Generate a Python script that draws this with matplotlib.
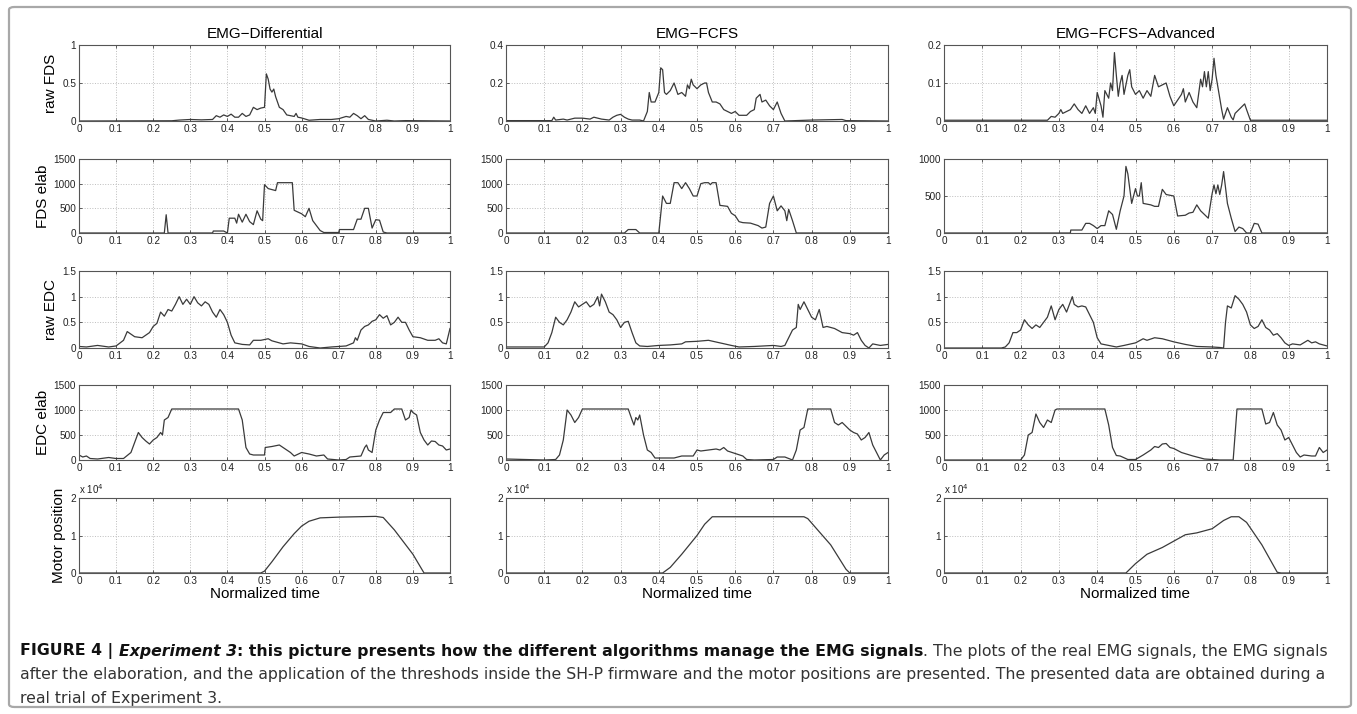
import numpy as np
import matplotlib.pyplot as plt
from matplotlib.patches import FancyBboxPatch

# ---- data (x = normalized time) ----
columns = ["EMG\u2212Differential", "EMG\u2212FCFS", "EMG\u2212FCFS\u2212Advanced"]
row_labels = ["raw FDS", "FDS elab", "raw EDC", "EDC elab", "Motor position"]

# EMG-Differential
t_fds_raw_diff = [0, 0.25, 0.27, 0.30, 0.33, 0.36, 0.37, 0.38, 0.39, 0.40, 0.41, 0.42, 0.43, 0.44, 0.45,
                  0.46, 0.47, 0.48, 0.49, 0.50, 0.505, 0.51, 0.515, 0.52, 0.525, 0.53, 0.54, 0.55, 0.56,
                  0.57, 0.58, 0.585, 0.59, 0.60, 0.62, 0.65, 0.68, 0.70, 0.72, 0.73, 0.74, 0.75, 0.76,
                  0.77, 0.78, 0.80, 0.83, 0.85, 0.88, 1.0]
fds_raw_diff = [0, 0.003, 0.012, 0.02, 0.015, 0.02, 0.07, 0.05, 0.08, 0.06, 0.09, 0.05, 0.05, 0.1, 0.06,
                0.08, 0.18, 0.15, 0.17, 0.18, 0.62, 0.55, 0.42, 0.38, 0.42, 0.32, 0.18, 0.15, 0.08,
                0.07, 0.06, 0.1, 0.05, 0.04, 0.01, 0.02, 0.02, 0.03, 0.06, 0.05, 0.1, 0.07, 0.03,
                0.07, 0.02, 0.0, 0.01, 0.0, 0.005, 0.0]

t_fds_elab_diff = [0, 0.23, 0.235, 0.24, 0.36, 0.362, 0.39, 0.40, 0.405, 0.42, 0.425, 0.43, 0.44, 0.45,
                   0.46, 0.47, 0.48, 0.49, 0.495, 0.50, 0.51, 0.52, 0.53, 0.535, 0.575, 0.58, 0.60,
                   0.61, 0.62, 0.63, 0.65, 0.66, 0.70, 0.702, 0.74, 0.75, 0.76, 0.77, 0.78, 0.79,
                   0.80, 0.81, 0.82, 0.83, 1.0]
fds_elab_diff = [0, 0, 370, 0, 0, 40, 40, 0, 300, 300, 200, 380, 220, 380,
                 230, 170, 450, 280, 250, 980, 900, 880, 860, 1020, 1020, 460, 390,
                 330, 500, 250, 50, 10, 10, 70, 70, 280, 280, 500, 500, 100,
                 270, 260, 20, 0, 0]

t_edc_raw_diff = [0, 0.02, 0.05, 0.08, 0.10, 0.12, 0.13, 0.15, 0.17, 0.19, 0.20, 0.21, 0.22, 0.23, 0.24,
                  0.25, 0.26, 0.27, 0.28, 0.29, 0.30, 0.31, 0.32, 0.33, 0.34, 0.35, 0.36, 0.37, 0.38,
                  0.39, 0.40, 0.41, 0.42, 0.44, 0.46, 0.47, 0.49, 0.51, 0.52, 0.55, 0.57, 0.60, 0.62,
                  0.65, 0.68, 0.72, 0.74, 0.745, 0.75, 0.76, 0.77, 0.78, 0.79, 0.80, 0.81, 0.82, 0.83,
                  0.84, 0.85, 0.86, 0.87, 0.88, 0.89, 0.90, 0.92, 0.94, 0.96, 0.97, 0.98, 0.99, 1.0]
edc_raw_diff = [0.03, 0.02, 0.05, 0.02, 0.04, 0.15, 0.32, 0.22, 0.2, 0.3, 0.42, 0.48, 0.7, 0.62, 0.75,
                0.72, 0.85, 1.0, 0.85, 0.95, 0.85, 1.0, 0.88, 0.82, 0.9, 0.85, 0.7, 0.6, 0.75,
                0.65, 0.5, 0.25, 0.1, 0.07, 0.06, 0.15, 0.15, 0.18, 0.14, 0.08, 0.1, 0.08, 0.03,
                0.0, 0.02, 0.04, 0.1, 0.2, 0.15, 0.35, 0.42, 0.45, 0.52, 0.55, 0.65, 0.58, 0.63,
                0.45, 0.5, 0.6, 0.5, 0.5, 0.35, 0.22, 0.2, 0.15, 0.15, 0.18, 0.1, 0.08, 0.38]

t_edc_elab_diff = [0, 0.01, 0.02, 0.03, 0.05, 0.08, 0.10, 0.12, 0.14, 0.15, 0.16, 0.17, 0.18, 0.19,
                   0.20, 0.21, 0.22, 0.225, 0.23, 0.24, 0.25, 0.43, 0.44, 0.45, 0.46, 0.47, 0.50,
                   0.502, 0.52, 0.54, 0.55, 0.57, 0.58, 0.60, 0.62, 0.64, 0.66, 0.67, 0.70, 0.72,
                   0.73, 0.76, 0.77, 0.775, 0.78, 0.79, 0.80, 0.81, 0.82, 0.84, 0.85, 0.87, 0.88,
                   0.89, 0.895, 0.90, 0.91, 0.92, 0.93, 0.94, 0.95, 0.96, 0.97, 0.98, 0.99, 1.0]
edc_elab_diff = [100, 60, 80, 30, 20, 50, 30, 30, 150, 350, 550, 450, 380, 320,
                 400, 450, 550, 500, 800, 850, 1020, 1020, 800, 250, 120, 100, 100,
                 250, 270, 300, 250, 150, 80, 150, 120, 80, 100, 20, 0, 10,
                 60, 80, 250, 300, 200, 150, 600, 800, 950, 950, 1020, 1020, 800,
                 850, 1000, 950, 900, 550, 400, 300, 380, 370, 300, 280, 200, 220]

t_motor_diff = [0, 0.49, 0.50, 0.52, 0.55, 0.58, 0.60, 0.62, 0.65, 0.70, 0.80, 0.82, 0.85, 0.90, 0.93, 1.0]
motor_diff = [0, 0, 500, 3000, 7000, 10500, 12500, 13800, 14700, 14900, 15100, 14800, 11500, 5000, 0, 0]

# EMG-FCFS
t_fds_raw_fcfs = [0, 0.12, 0.125, 0.13, 0.15, 0.16, 0.18, 0.20, 0.22, 0.23, 0.25, 0.27, 0.28, 0.29, 0.30,
                  0.31, 0.32, 0.33, 0.35, 0.36, 0.37, 0.375, 0.38, 0.39, 0.40, 0.405, 0.41, 0.415, 0.42,
                  0.43, 0.44, 0.45, 0.46, 0.47, 0.475, 0.48, 0.485, 0.49, 0.50, 0.51, 0.52, 0.525,
                  0.53, 0.54, 0.55, 0.56, 0.57, 0.58, 0.59, 0.60, 0.61, 0.62, 0.63, 0.64, 0.65,
                  0.655, 0.665, 0.67, 0.68, 0.69, 0.70, 0.71, 0.72, 0.73, 0.80, 0.88, 0.89, 1.0]
fds_raw_fcfs = [0.002, 0.002, 0.02, 0.005, 0.01, 0.005, 0.015, 0.015, 0.01, 0.02, 0.01, 0.005, 0.02, 0.03, 0.035,
                0.02, 0.01, 0.005, 0.005, 0.0, 0.05, 0.15, 0.1, 0.1, 0.15, 0.28, 0.27, 0.15, 0.14,
                0.16, 0.2, 0.14, 0.15, 0.13, 0.19, 0.17, 0.22, 0.19, 0.17, 0.19, 0.2, 0.2,
                0.15, 0.1, 0.1, 0.09, 0.06, 0.05, 0.04, 0.05, 0.03, 0.03, 0.03, 0.05, 0.06,
                0.12, 0.14, 0.1, 0.11, 0.08, 0.06, 0.1, 0.04, 0.0, 0.005, 0.008, 0.002, 0.0]

t_fds_elab_fcfs = [0, 0.31, 0.32, 0.34, 0.35, 0.40, 0.41, 0.42, 0.43, 0.44, 0.45, 0.46, 0.47, 0.48,
                   0.49, 0.50, 0.51, 0.52, 0.53, 0.535, 0.54, 0.55, 0.56, 0.57, 0.58, 0.59, 0.60,
                   0.61, 0.62, 0.64, 0.66, 0.67, 0.68, 0.69, 0.70, 0.71, 0.72, 0.73, 0.735, 0.74,
                   0.75, 0.76, 1.0]
fds_elab_fcfs = [0, 0, 70, 70, 0, 0, 750, 600, 600, 1020, 1020, 900, 1020, 900,
                 750, 750, 1000, 1020, 1020, 980, 1020, 1020, 560, 550, 540, 400, 350,
                 230, 210, 200, 150, 100, 120, 600, 750, 450, 550, 450, 250, 480,
                 250, 0, 0]

t_edc_raw_fcfs = [0, 0.05, 0.10, 0.11, 0.12, 0.13, 0.14, 0.15, 0.16, 0.17, 0.18, 0.19, 0.20, 0.21,
                  0.22, 0.23, 0.24, 0.245, 0.25, 0.26, 0.27, 0.28, 0.29, 0.30, 0.31, 0.32, 0.33,
                  0.34, 0.35, 0.37, 0.40, 0.43, 0.46, 0.47, 0.50, 0.53, 0.56, 0.59, 0.61, 0.65,
                  0.70, 0.72, 0.73, 0.75, 0.76, 0.765, 0.77, 0.78, 0.79, 0.80, 0.81, 0.82, 0.83,
                  0.84, 0.86, 0.88, 0.90, 0.91, 0.92, 0.93, 0.94, 0.95, 0.96, 0.98, 1.0]
edc_raw_fcfs = [0.02, 0.02, 0.02, 0.1, 0.3, 0.6, 0.5, 0.45, 0.55, 0.7, 0.9, 0.8, 0.85, 0.9,
                0.8, 0.85, 1.0, 0.82, 1.05, 0.9, 0.7, 0.65, 0.55, 0.4, 0.5, 0.52, 0.3,
                0.1, 0.04, 0.03, 0.05, 0.06, 0.08, 0.12, 0.13, 0.15, 0.1, 0.05, 0.02, 0.03,
                0.05, 0.03, 0.05, 0.35, 0.4, 0.85, 0.75, 0.9, 0.75, 0.6, 0.55, 0.75, 0.4,
                0.42, 0.38, 0.3, 0.28, 0.25, 0.3, 0.15, 0.05, 0.0, 0.08, 0.05, 0.07]

t_edc_elab_fcfs = [0, 0.05, 0.10, 0.13, 0.14, 0.15, 0.16, 0.17, 0.18, 0.19, 0.20, 0.32, 0.33, 0.335,
                   0.34, 0.345, 0.35, 0.36, 0.37, 0.38, 0.39, 0.44, 0.46, 0.49, 0.50, 0.51, 0.53,
                   0.55, 0.56, 0.57, 0.58, 0.60, 0.62, 0.63, 0.65, 0.70, 0.71, 0.73, 0.75, 0.76,
                   0.77, 0.78, 0.79, 0.85, 0.86, 0.87, 0.88, 0.90, 0.91, 0.92, 0.93, 0.94, 0.95,
                   0.96, 0.97, 0.98, 0.99, 1.0]
edc_elab_fcfs = [20, 10, 0, 10, 100, 400, 1000, 900, 750, 850, 1020, 1020, 800, 700,
                 850, 800, 900, 500, 200, 150, 40, 40, 80, 80, 200, 180, 200,
                 220, 200, 250, 180, 130, 80, 10, 0, 10, 60, 60, 0, 200,
                 600, 650, 1020, 1020, 750, 700, 750, 600, 550, 520, 400, 450, 550,
                 300, 150, 0, 100, 150]

t_motor_fcfs = [0, 0.41, 0.43, 0.46, 0.50, 0.52, 0.54, 0.78, 0.79, 0.85, 0.89, 0.90, 1.0]
motor_fcfs = [0, 0, 1500, 5000, 10000, 13000, 15000, 15000, 14500, 7500, 1000, 0, 0]

# EMG-FCFS-Advanced
t_fds_raw_adv = [0, 0.27, 0.28, 0.29, 0.30, 0.305, 0.31, 0.32, 0.33, 0.34, 0.35, 0.36, 0.37, 0.38, 0.39,
                 0.395, 0.40, 0.41, 0.415, 0.42, 0.43, 0.435, 0.44, 0.445, 0.45, 0.455, 0.46, 0.465,
                 0.47, 0.48, 0.485, 0.49, 0.50, 0.51, 0.52, 0.53, 0.54, 0.55, 0.56, 0.57, 0.58,
                 0.59, 0.60, 0.61, 0.62, 0.625, 0.63, 0.64, 0.65, 0.66, 0.67, 0.675, 0.68, 0.685,
                 0.69, 0.695, 0.70, 0.705, 0.71, 0.72, 0.725, 0.73, 0.74, 0.75, 0.755, 0.76, 0.77,
                 0.78, 0.785, 0.79, 0.80, 1.0]
fds_raw_adv = [0.002, 0.002, 0.012, 0.01, 0.02, 0.03, 0.02, 0.025, 0.03, 0.045, 0.03, 0.02, 0.04, 0.02, 0.035,
               0.02, 0.075, 0.04, 0.01, 0.08, 0.06, 0.1, 0.08, 0.18, 0.12, 0.065, 0.1, 0.12,
               0.07, 0.12, 0.135, 0.09, 0.07, 0.08, 0.06, 0.08, 0.065, 0.12, 0.09, 0.095, 0.1,
               0.065, 0.04, 0.055, 0.07, 0.085, 0.05, 0.075, 0.05, 0.035, 0.11, 0.09, 0.13, 0.09,
               0.13, 0.08, 0.11, 0.165, 0.12, 0.06, 0.03, 0.005, 0.035, 0.01, 0.003, 0.02, 0.03,
               0.04, 0.045, 0.03, 0.002, 0.002]

t_fds_elab_adv = [0, 0.33, 0.331, 0.36, 0.37, 0.38, 0.39, 0.40, 0.41, 0.42, 0.43, 0.44, 0.45, 0.46,
                  0.47, 0.475, 0.48, 0.49, 0.50, 0.505, 0.51, 0.515, 0.52, 0.54, 0.55, 0.56, 0.57,
                  0.58, 0.60, 0.61, 0.63, 0.64, 0.65, 0.66, 0.67, 0.68, 0.69, 0.70, 0.705, 0.71,
                  0.715, 0.72, 0.725, 0.73, 0.74, 0.75, 0.76, 0.77, 0.78, 0.79, 0.80, 0.81, 0.82,
                  0.83, 1.0]
fds_elab_adv = [0, 0, 40, 40, 130, 130, 100, 60, 100, 100, 300, 250, 50, 300,
                500, 900, 800, 400, 600, 500, 500, 680, 400, 380, 360, 360, 590,
                520, 500, 230, 240, 270, 280, 380, 300, 250, 200, 530, 650, 530,
                650, 520, 650, 830, 400, 200, 20, 80, 60, 0, 0, 130, 120,
                0, 0]

t_edc_raw_adv = [0, 0.15, 0.16, 0.17, 0.18, 0.19, 0.20, 0.21, 0.22, 0.23, 0.24, 0.25, 0.26, 0.27, 0.28,
                 0.29, 0.30, 0.31, 0.32, 0.33, 0.335, 0.34, 0.35, 0.36, 0.37, 0.38, 0.39, 0.40, 0.41,
                 0.43, 0.45, 0.47, 0.50, 0.52, 0.53, 0.55, 0.57, 0.60, 0.63, 0.66, 0.70, 0.72, 0.73,
                 0.735, 0.74, 0.75, 0.76, 0.77, 0.78, 0.79, 0.80, 0.81, 0.82, 0.83, 0.84, 0.85,
                 0.86, 0.87, 0.88, 0.89, 0.90, 0.91, 0.93, 0.95, 0.96, 0.97, 0.98, 1.0]
edc_raw_adv = [0.0, 0.0, 0.02, 0.1, 0.3, 0.3, 0.35, 0.55, 0.45, 0.38, 0.45, 0.4, 0.5, 0.6, 0.82,
               0.55, 0.75, 0.85, 0.7, 0.9, 1.0, 0.85, 0.8, 0.82, 0.8, 0.65, 0.5, 0.2, 0.08,
               0.05, 0.02, 0.05, 0.1, 0.18, 0.15, 0.2, 0.18, 0.12, 0.07, 0.03, 0.02, 0.01, 0.0,
               0.5, 0.82, 0.78, 1.02, 0.95, 0.85, 0.7, 0.45, 0.38, 0.42, 0.55, 0.4, 0.35,
               0.25, 0.28, 0.2, 0.1, 0.05, 0.08, 0.06, 0.15, 0.1, 0.12, 0.08, 0.04]

t_edc_elab_adv = [0, 0.20, 0.21, 0.22, 0.23, 0.24, 0.25, 0.26, 0.27, 0.28, 0.29, 0.295, 0.42, 0.43,
                  0.44, 0.45, 0.46, 0.48, 0.50, 0.52, 0.54, 0.55, 0.56, 0.57, 0.58, 0.59, 0.60,
                  0.62, 0.65, 0.68, 0.72, 0.755, 0.765, 0.83, 0.84, 0.85, 0.86, 0.87, 0.88, 0.89,
                  0.90, 0.91, 0.92, 0.93, 0.94, 0.95, 0.96, 0.97, 0.98, 0.99, 1.0]
edc_elab_adv = [0, 0, 100, 500, 550, 920, 750, 650, 800, 750, 1000, 1020, 1020, 700,
                250, 90, 80, 10, 10, 100, 200, 270, 250, 320, 330, 250, 230,
                150, 80, 20, 0, 0, 1020, 1020, 720, 750, 950, 700, 600, 400,
                450, 300, 150, 60, 100, 90, 80, 80, 250, 150, 200]

t_motor_adv = [0, 0.475, 0.50, 0.53, 0.57, 0.60, 0.63, 0.66, 0.70, 0.73, 0.75, 0.77, 0.79, 0.83, 0.87, 0.88, 1.0]
motor_adv = [0, 0, 2500, 5000, 6800, 8500, 10200, 10700, 11800, 14000, 15000, 15000, 13500, 7500, 200, 0, 0]

# y ticks per panel row / column
yticks_fds_raw = [[0, 0.5, 1], [0, 0.2, 0.4], [0, 0.1, 0.2]]
yticks_fds_elab = [[0, 500, 1000, 1500], [0, 500, 1000, 1500], [0, 500, 1000]]
yticks_edc_raw = [0, 0.5, 1, 1.5]
yticks_edc_elab = [0, 500, 1000, 1500]
yticks_motor = [0, 10000, 20000]
xticks = [0, 0.1, 0.2, 0.3, 0.4, 0.5, 0.6, 0.7, 0.8, 0.9, 1]

panels = [
    [(t_fds_raw_diff, fds_raw_diff), (t_fds_elab_diff, fds_elab_diff), (t_edc_raw_diff, edc_raw_diff),
     (t_edc_elab_diff, edc_elab_diff), (t_motor_diff, motor_diff)],
    [(t_fds_raw_fcfs, fds_raw_fcfs), (t_fds_elab_fcfs, fds_elab_fcfs), (t_edc_raw_fcfs, edc_raw_fcfs),
     (t_edc_elab_fcfs, edc_elab_fcfs), (t_motor_fcfs, motor_fcfs)],
    [(t_fds_raw_adv, fds_raw_adv), (t_fds_elab_adv, fds_elab_adv), (t_edc_raw_adv, edc_raw_adv),
     (t_edc_elab_adv, edc_elab_adv), (t_motor_adv, motor_adv)],
]

plt.rcParams['font.family'] = ['Liberation Sans', 'DejaVu Sans']

W, H = 1357, 714
fig = plt.figure(figsize=(W / 100, H / 100), dpi=100)

# axes placement in pixels (left, right) and (top, bottom)
col_px = [(79, 450), (506, 888), (944, 1327)]
row_px = [(45, 121), (159, 233), (271, 348), (385, 460), (498, 573)]


def fmt(v):
    return ('%g' % v)


for c in range(3):
    for r in range(5):
        l, rr = col_px[c]
        top, bot = row_px[r]
        ax = fig.add_axes([l / W, 1 - bot / H, (rr - l) / W, (bot - top) / H])
        t, y = panels[c][r]
        ax.plot(t, y, color='#3a3a3a', lw=0.9)
        ax.set_xlim(0, 1)
        if r == 0:
            yt = yticks_fds_raw[c]
        elif r == 1:
            yt = yticks_fds_elab[c]
        elif r == 2:
            yt = yticks_edc_raw
        elif r == 3:
            yt = yticks_edc_elab
        else:
            yt = yticks_motor
        ax.set_ylim(yt[0], yt[-1])
        ax.set_yticks(yt)
        if r == 4:
            ax.set_yticklabels([fmt(v / 1e4) for v in yt])
            ax.text(0.0, 1.02, r'x 10$^4$', transform=ax.transAxes, fontsize=7,
                    ha='left', va='bottom', color='#222222')
            ax.set_xlabel("Normalized time", fontsize=11, labelpad=1)
        else:
            ax.set_yticklabels([fmt(v) for v in yt])
        ax.set_xticks(xticks)
        ax.set_xticklabels([fmt(v) for v in xticks])
        ax.grid(True, linestyle=':', color='#bdbdbd', lw=0.7)
        ax.tick_params(direction='in', length=2.5, width=0.6, labelsize=7.2, pad=2,
                       top=True, right=True, colors='#444444', labelcolor='#222222')
        for s in ax.spines.values():
            s.set_color('#555555')
            s.set_linewidth(0.8)
        if c == 0:
            ax.set_ylabel(row_labels[r], fontsize=11, labelpad=3)
        if r == 0:
            ax.set_title(columns[c], fontsize=11, pad=5)

# border around figure
fig.patches.append(FancyBboxPatch((9 / W, 1 - 707 / H), 1342 / W, 700 / H,
                                  boxstyle="round,pad=0,rounding_size=0.004",
                                  transform=fig.transFigure, fill=False,
                                  ec='#a8a8a8', lw=1.6))

# caption (mixed bold / italic / regular pieces)
cap = fig.add_axes([0, 0, 1, 1], facecolor='none')
cap.set_axis_off()
cap_fam = ['Liberation Sans Narrow', 'DejaVu Sans Condensed', 'DejaVu Sans']
cap_size = 11.3
pieces = [("FIGURE 4 | ", 'bold', 'normal', '#111111'),
          ("Experiment 3", 'bold', 'italic', '#111111'),
          (": this picture presents how the different algorithms manage the EMG signals", 'bold', 'normal', '#111111'),
          (". The plots of the real EMG signals, the EMG signals", 'normal', 'normal', '#333333')]
prev = cap.text(20 / W, 1 - 651 / H, pieces[0][0], fontsize=cap_size, family=cap_fam,
                fontweight=pieces[0][1], fontstyle=pieces[0][2], color=pieces[0][3], va='center')
for txt, wgt, sty, col in pieces[1:]:
    prev = cap.annotate(txt, xy=(1, 0), xycoords=prev, va='bottom', fontsize=cap_size,
                        family=cap_fam, fontweight=wgt, fontstyle=sty, color=col)
cap.text(20 / W, 1 - 675 / H,
         "after the elaboration, and the application of the threshods inside the SH-P firmware and the motor "
         "positions are presented. The presented data are obtained during a",
         fontsize=cap_size, family=cap_fam, color='#333333', va='center')
cap.text(20 / W, 1 - 699 / H, "real trial of Experiment 3.",
         fontsize=cap_size, family=cap_fam, color='#333333', va='center')

fig.savefig('out.png', dpi=100)
